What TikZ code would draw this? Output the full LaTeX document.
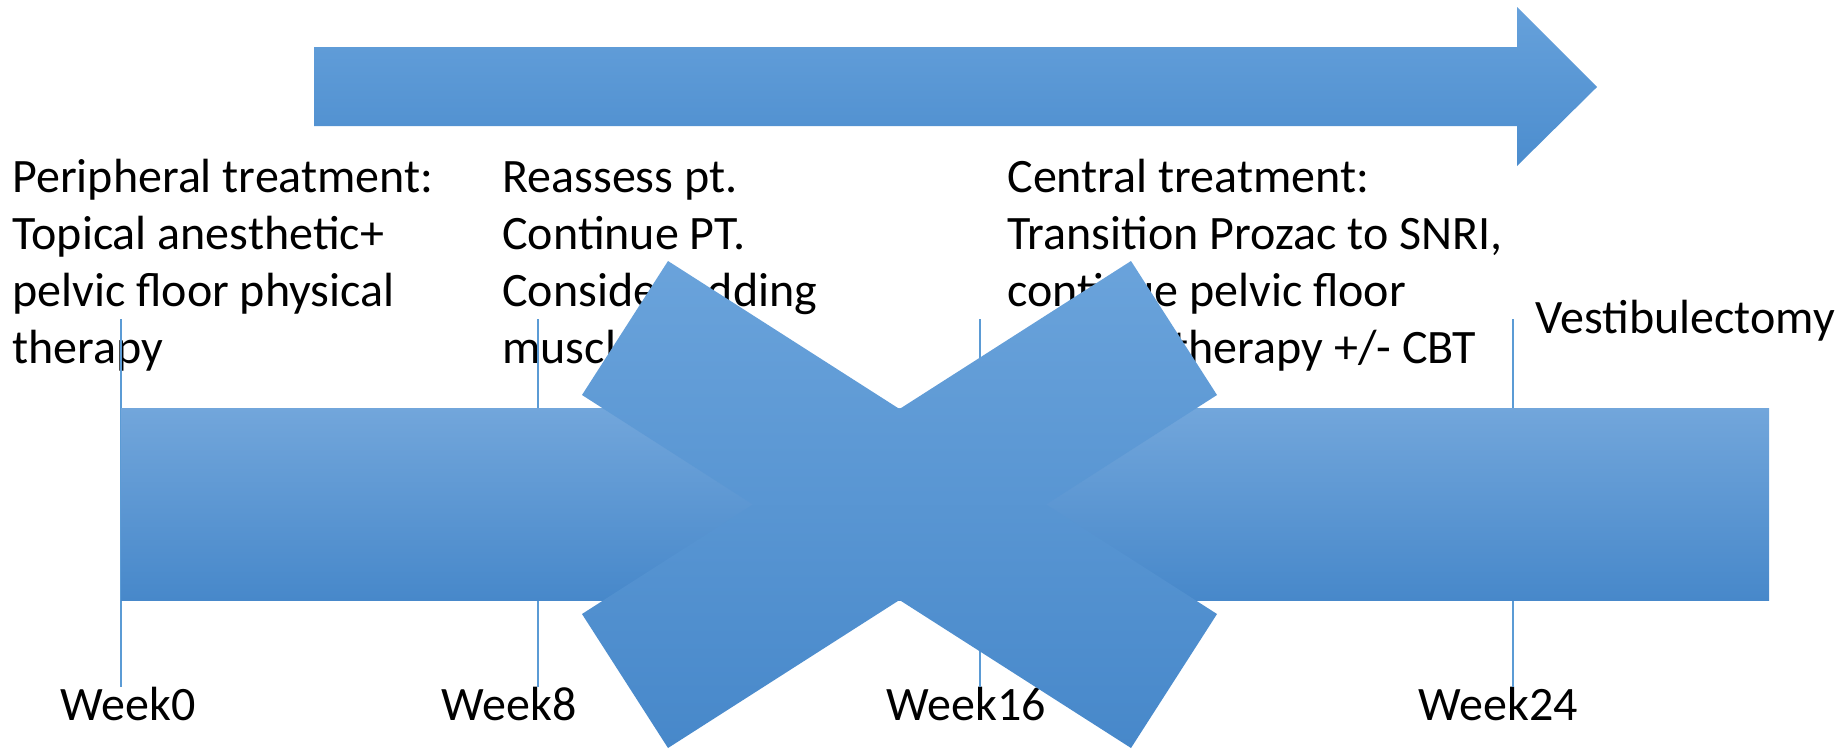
\documentclass[tikz,border=0pt]{standalone}
\usepackage{fontspec}
\setmainfont{Carlito}
\definecolor{tickblue}{HTML}{5B9BD5}
\definecolor{shapetop}{HTML}{6AA3DB}
\definecolor{shapebot}{HTML}{4788CA}
\definecolor{bartop}{HTML}{72A6DB}
\definecolor{arrowtop}{HTML}{66A1DB}
\definecolor{arrowbot}{HTML}{4C8DCE}
\begin{document}
\begin{tikzpicture}[x=0.5pt,y=-0.5pt,
  lbl/.style={anchor=base west, inner sep=0pt, font=\fontsize{24}{28.35}\selectfont, align=left},
  tickline/.style={draw=tickblue, line width=0.75pt},
  barshade/.style={top color=bartop, bottom color=shapebot},
  xshade/.style={top color=shapetop, bottom color=shapebot},
  arrowshade/.style={top color=arrowtop, bottom color=arrowbot}]
\useasboundingbox (0,0) rectangle (1845,750);

% text blocks (anchor = baseline of the last line)
\node[lbl] (peri) at (12,363) {Peripheral treatment:\\Topical anesthetic+\\pelvic floor physical\\therapy};
\node[lbl] (reas) at (502,363) {Reassess pt.\\Continue PT.\\Consider adding\\muscle relaxer};
\node[lbl] (cent) at (1007,363) {Central treatment:\\Transition Prozac to SNRI,\\continue pelvic floor\\physical therapy +/- CBT};
\node[lbl] (vest) at (1535,333) {Vestibulectomy};

% week labels
\node[lbl] (w0) at (60,720) {Week0};
\node[lbl] (w8) at (441,720) {Week8};
\node[lbl] (w16) at (886,720) {Week16};
\node[lbl] (w24) at (1418,720) {Week24};

% tick lines
\coordinate (t0a) at (121,319);  \coordinate (t0b) at (121,687);
\coordinate (t8a) at (538,319);  \coordinate (t8b) at (538,687);
\coordinate (t16a) at (980,319); \coordinate (t16b) at (980,687);
\coordinate (t24a) at (1513,319);\coordinate (t24b) at (1513,687);
\draw[tickline] (t0a) -- (t0b);
\draw[tickline] (t8a) -- (t8b);
\draw[tickline] (t16a) -- (t16b);
\draw[tickline] (t24a) -- (t24b);

% timeline bar
\shade[barshade] (121,408) rectangle (1769,600);

% big X
\shade[xshade] (668,261) -- (899.5,409) -- (1131,261) -- (1217,395) -- (1046,504.5)
  -- (1217,614) -- (1131,748) -- (899.5,600) -- (668,748) -- (582,614)
  -- (753,504.5) -- (582,395) -- cycle;

% top arrow
\shade[arrowshade] (314,47) -- (1517,47) -- (1517,7) -- (1597,87) -- (1517,166)
  -- (1517,126) -- (314,126) -- cycle;
\end{tikzpicture}
\end{document}
